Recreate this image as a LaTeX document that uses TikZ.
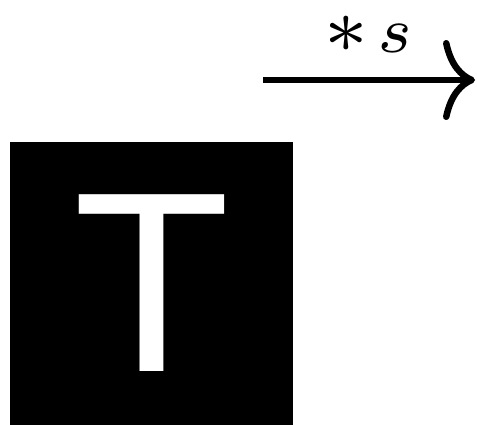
\documentclass[tikz,border=0pt]{standalone}
\usepackage{fontspec}
\newfontfamily\tfont{Liberation Sans}
\usetikzlibrary{arrows.meta}
\begin{document}
\begin{tikzpicture}[x=1pt,y=-1pt,
  bigarrow/.style={line width=6.5pt,-{Computer Modern Rightarrow[length=32pt,width=80pt]}},
  tbox/.style={fill=black,text=white,minimum size=283pt,inner sep=0pt,font=\tfont\fontsize{257}{257}\selectfont},
  lbl/.style={inner sep=0pt,anchor=base}]
\useasboundingbox (0,0) rectangle (477,425);
\coordinate (a0) at (263,80);
\coordinate (a1) at (475,80);
\draw[bigarrow] (a0) -- (a1);
\node[lbl] (l) at (368,53) {\scalebox{9.3}{$\scriptstyle \mathord{\scalebox{1.2}{$\scriptstyle*$}}\mkern2mu s$}};
\node[tbox] (sq) at (151.5,283.5) {T};
\end{tikzpicture}
\end{document}
